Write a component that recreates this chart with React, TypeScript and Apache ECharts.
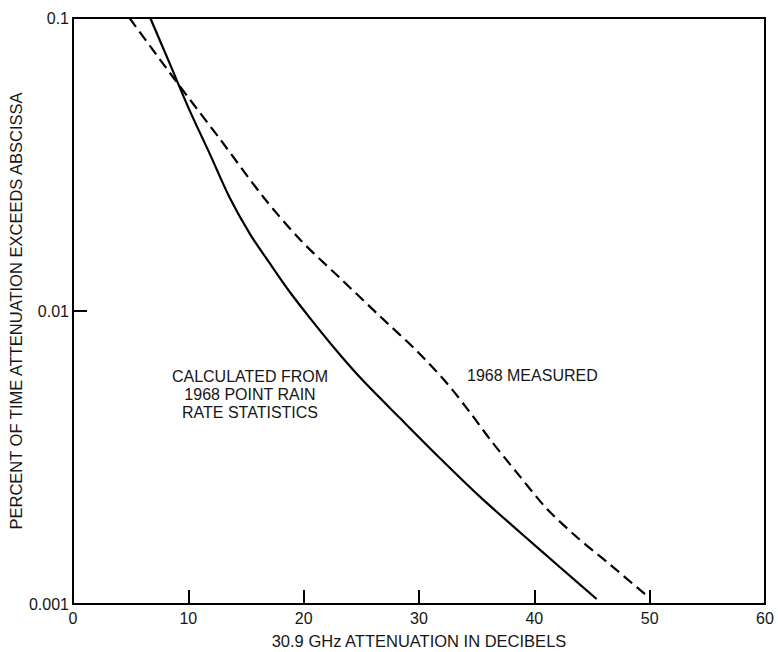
import React, { useEffect, useRef } from "react";
import * as echarts from "echarts";

const xTicks = [0, 10, 20, 30, 40, 50, 60];
const yTickLabels = ["0.001", "0.01", "0.1"];

const calcX = [6.7, 8.4, 10.1, 11.9, 13.6, 15.35, 17.1, 18.8, 20.55, 22.8, 25.1, 28.35, 31.8, 35.3, 38.8, 42.2, 45.4];
const calcY = [0.1, 0.0697, 0.0485, 0.0341, 0.0243, 0.0183, 0.01447, 0.01161, 0.00946, 0.00736, 0.00581, 0.00431, 0.00315, 0.00232, 0.00175, 0.001337, 0.00104];

const measX = [4.9, 7.5, 10.1, 12.75, 16.5, 19.7, 23.15, 26.6, 29.9, 32.4, 34.4, 36.2, 38.8, 41.1, 43.7, 46.6, 49.6];
const measY = [0.1, 0.0725, 0.0529, 0.0386, 0.0245, 0.0175, 0.01296, 0.00961, 0.00725, 0.00568, 0.00452, 0.00363, 0.00271, 0.00211, 0.00169, 0.00136, 0.00108];

const calcLabel = ["CALCULATED FROM", "1968 POINT RAIN", "RATE STATISTICS"];
const measLabel = "1968 MEASURED";
const xTitle = "30.9 GHz ATTENUATION IN DECIBELS";
const yTitle = "PERCENT OF TIME ATTENUATION EXCEEDS ABSCISSA";

const FONT = "Liberation Sans, Arial, Helvetica, sans-serif";
const INK = "#161616";

export default function App() {
  const ref = useRef<HTMLDivElement>(null);
  useEffect(() => {
    if (!ref.current) return;
    const chart = echarts.init(ref.current, null, { renderer: "svg" });
    const zip = (xs: number[], ys: number[]) => xs.map((x, i) => [x, ys[i]]);
    chart.setOption({
      animation: false,
      backgroundColor: "#fff",
      grid: {
        left: 73,
        right: 13,
        top: 18,
        bottom: 48,
        containLabel: false,
        outerBoundsMode: "none",
        show: true,
        borderColor: "#000",
        borderWidth: 2,
        backgroundColor: "transparent",
      },
      xAxis: {
        type: "value",
        min: xTicks[0],
        max: xTicks[xTicks.length - 1],
        interval: 10,
        name: xTitle,
        nameLocation: "middle",
        nameGap: 28,
        nameMoveOverlap: false,
        nameTextStyle: { color: INK, fontSize: 16.5, fontFamily: FONT },
        axisLine: { show: true, lineStyle: { color: "#000", width: 2 } },
        axisTick: { show: true, inside: true, length: 14, lineStyle: { color: "#000", width: 2 } },
        axisLabel: { color: INK, fontSize: 16, fontFamily: FONT, margin: 6 },
        splitLine: { show: false },
      },
      yAxis: {
        type: "log",
        logBase: 10,
        min: 0.001,
        max: 0.1,
        name: yTitle,
        nameLocation: "middle",
        nameGap: 49,
        nameMoveOverlap: false,
        nameTextStyle: { color: INK, fontSize: 16.5, fontFamily: FONT },
        axisLine: { show: true, lineStyle: { color: "#000", width: 2 } },
        axisTick: { show: true, inside: true, length: 14, lineStyle: { color: "#000", width: 2 } },
        axisLabel: {
          color: INK,
          fontSize: 16,
          fontFamily: FONT,
          margin: 4,
          formatter: (v: number) => {
            const idx = Math.round(Math.log10(v)) + 3;
            return yTickLabels[idx] ?? "";
          },
        },
        splitLine: { show: false },
        minorTick: { show: false },
      },
      series: [
        {
          type: "line",
          name: "calculated",
          data: zip(calcX, calcY),
          smooth: 0.3,
          showSymbol: false,
          lineStyle: { color: "#000", width: 2.2 },
        },
        {
          type: "line",
          name: "measured",
          data: zip(measX, measY),
          smooth: 0.3,
          showSymbol: false,
          lineStyle: { color: "#000", width: 2.2, type: [11, 6] },
        },
      ],
      graphic: [
        {
          type: "text",
          left: 166,
          top: 367,
          style: {
            text: calcLabel.join("\n"),
            fill: INK,
            font: `16px ${FONT}`,
            align: "center",
            textAlign: "center",
            lineHeight: 18,
            width: 168,
          },
        },
        {
          type: "text",
          left: 467,
          top: 367,
          style: {
            text: measLabel,
            fill: INK,
            font: `16px ${FONT}`,
          },
        },
      ],
    });
    return () => chart.dispose();
  }, []);
  return <div ref={ref} style={{ width: 778, height: 652, position: "absolute", left: 0, top: 0 }} />;
}
